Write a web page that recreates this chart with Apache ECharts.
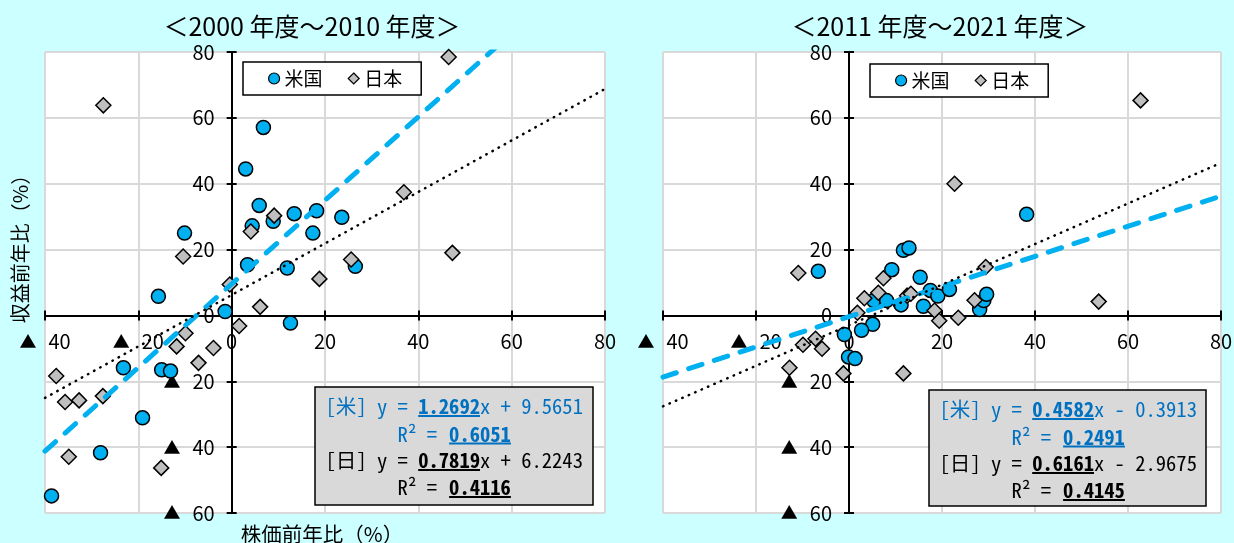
<!DOCTYPE html>
<html>
<head>
<meta charset="utf-8">
<script src="https://cdn.jsdelivr.net/npm/echarts@6/dist/echarts.min.js"></script>
<style>
html,body{margin:0;padding:0;background:#CCFFFF;}
#c{width:1234px;height:543px;}
</style>
</head>
<body>
<div id="c"></div>
<script>
// ---- data ----
const titles = ['＜2000 年度～2010 年度＞', '＜2011 年度～2021 年度＞'];
const seriesNames = ['米国', '日本'];
const eqLabels = ['[米]', '[日]'];
const xTickRange = [-40, 80, 20];
const yTickRange = [-60, 80, 20];

const usPoints1 = [[-1.4,1.2],[3.0,44.5],[6.8,57.1],[5.9,33.4],[4.4,27.2],[8.9,28.6],[13.4,30.9],[18.2,31.8],[23.6,29.8],[17.4,25.0],[3.4,15.4],[11.9,14.4],[26.5,14.9],[12.6,-2.3],[-10.1,25.0],[-15.7,5.8],[-23.2,-15.9],[-15.0,-16.5],[-13.1,-16.9],[-19.1,-31.1],[-28.1,-41.7],[-38.6,-54.8]];
const jpPoints1 = [[46.5,78.5],[36.9,37.4],[47.3,19.0],[25.6,17.0],[9.1,30.3],[4.1,25.5],[18.8,11.1],[6.1,2.6],[-0.4,9.4],[1.6,-3.2],[-27.5,63.8],[-10.4,17.9],[-9.9,-5.4],[-11.8,-9.4],[-3.9,-9.9],[-7.1,-14.4],[-37.6,-18.4],[-35.7,-26.3],[-32.7,-25.8],[-27.6,-24.5],[-34.9,-42.9],[-15.1,-46.3]];
const usPoints2 = [[-6.6,13.4],[11.7,19.8],[12.9,20.5],[9.2,13.9],[15.3,11.6],[5.3,4.5],[8.1,4.5],[11.2,3.2],[16.0,2.8],[17.5,7.6],[19.1,5.9],[21.6,7.9],[28.1,1.8],[29.0,4.5],[29.6,6.4],[-1.0,-5.8],[5.1,-2.7],[2.7,-4.5],[-0.1,-12.6],[1.3,-13.1],[38.2,30.7]];
const jpPoints2 = [[-10.9,12.9],[7.4,11.3],[6.3,6.9],[3.3,5.2],[1.8,0.8],[12.5,6.0],[13.3,6.6],[18.4,1.5],[19.4,-1.6],[23.5,-0.7],[27.0,4.6],[29.4,14.7],[-9.9,-8.9],[-7.2,-7.1],[-5.8,-10.1],[-12.8,-15.9],[-1.2,-17.6],[11.7,-17.6],[22.7,40.0],[62.7,65.3],[53.7,4.2]];

const slopes1 = [1.2692, 0.7819];
const intercepts1 = [9.5651, 6.2243];
const r2s1 = [0.6051, 0.4116];
const slopes2 = [0.4582, 0.6161];
const intercepts2 = [-0.3913, -2.9675];
const r2s2 = [0.2491, 0.4145];

const yAxisName = '収益前年比（%）';
const xAxisName = '株価前年比（%）';

// ---- styles / layout ----
const BLUE = '#00B0F0', GRAY = '#BFBFBF', EQBLUE = '#0070C0';
const NUMFONT = "'Liberation Sans Narrow', 'Noto Sans CJK JP', sans-serif";
const CJK = "'Noto Sans CJK JP', sans-serif";
const MONO = "'Noto Sans Mono CJK JP', 'DejaVu Sans Mono', monospace";

const grids = [
  {left: 45, top: 52, width: 560, height: 461},
  {left: 663, top: 52, width: 558, height: 461}
];

function tickFmt(v) { return v < 0 ? '{t|▲}{n|' + (-v) + '}' : '{n|' + v + '}'; }
const labelRich = {
  t: {fontFamily: CJK, fontSize: 17, color: '#000', padding: [0, 12, 0, 0]},
  n: {fontFamily: NUMFONT, fontSize: 20, color: '#000'}
};
const axisLineStyle = {color: '#000', width: 2};

// axes cross at zero: shift each axis inward by the distance of the zero value from the grid edge
function yAxisShift(g) { return -(0 - xTickRange[0]) / (xTickRange[1] - xTickRange[0]) * g.width; }
function xAxisShift(g) { return -(0 - yTickRange[0]) / (yTickRange[1] - yTickRange[0]) * g.height; }

const xAxes = [], yAxes = [];
grids.forEach((g, gi) => {
  const xo = xAxisShift(g), yo = yAxisShift(g);
  xAxes.push({
    gridIndex: gi, type: 'value', min: xTickRange[0], max: xTickRange[1], interval: xTickRange[2], position: 'bottom', offset: xo,
    axisLine: {onZero: false, lineStyle: axisLineStyle},
    axisTick: {length: 5, lineStyle: axisLineStyle},
    axisLabel: {formatter: tickFmt, rich: labelRich, margin: 16},
    splitLine: {lineStyle: {color: '#D9D9D9', width: 2}}
  });
  xAxes.push({
    gridIndex: gi, type: 'value', min: xTickRange[0], max: xTickRange[1], interval: xTickRange[2], position: 'bottom', offset: xo,
    axisLine: {show: false, onZero: false},
    axisTick: {inside: true, length: 5, lineStyle: axisLineStyle},
    axisLabel: {show: false}, splitLine: {show: false}
  });
  yAxes.push({
    gridIndex: gi, type: 'value', min: yTickRange[0], max: yTickRange[1], interval: yTickRange[2], position: 'left', offset: yo,
    axisLine: {onZero: false, lineStyle: axisLineStyle},
    axisTick: {length: 5, lineStyle: axisLineStyle},
    axisLabel: {formatter: tickFmt, rich: labelRich, margin: 17},
    splitLine: {lineStyle: {color: '#D9D9D9', width: 2}}
  });
  yAxes.push({
    gridIndex: gi, type: 'value', min: yTickRange[0], max: yTickRange[1], interval: yTickRange[2], position: 'left', offset: yo,
    axisLine: {show: false, onZero: false},
    axisTick: {inside: true, length: 5, lineStyle: axisLineStyle},
    axisLabel: {show: false}, splitLine: {show: false}
  });
});

function trend(a, b) {
  return [[xTickRange[0], a * xTickRange[0] + b], [xTickRange[1], a * xTickRange[1] + b]];
}

const panels = [
  {us: usPoints1, jp: jpPoints1, slopes: slopes1, intercepts: intercepts1, r2s: r2s1},
  {us: usPoints2, jp: jpPoints2, slopes: slopes2, intercepts: intercepts2, r2s: r2s2}
];

const series = [];
panels.forEach((p, gi) => {
  const xi = gi * 2, yi = gi * 2;
  series.push({
    name: seriesNames[0], type: 'scatter', xAxisIndex: xi, yAxisIndex: yi, data: p.us,
    symbol: 'circle', symbolSize: 14, z: 3,
    itemStyle: {color: BLUE, borderColor: '#000', borderWidth: 1.5, opacity: 1}
  });
  series.push({
    name: seriesNames[1], type: 'scatter', xAxisIndex: xi, yAxisIndex: yi, data: p.jp,
    symbol: 'diamond', symbolSize: 15, z: 4,
    itemStyle: {color: GRAY, borderColor: '#000', borderWidth: 1.5, opacity: 1}
  });
  series.push({
    name: seriesNames[0] + '近似', type: 'line', xAxisIndex: xi, yAxisIndex: yi,
    data: trend(p.slopes[0], p.intercepts[0]), showSymbol: false, symbol: 'none', silent: true, z: 5, clip: true,
    lineStyle: {color: BLUE, width: 5, type: [14, 13], cap: 'round'}
  });
  series.push({
    name: seriesNames[1] + '近似', type: 'line', xAxisIndex: xi, yAxisIndex: yi,
    data: trend(p.slopes[1], p.intercepts[1]), showSymbol: false, symbol: 'none', silent: true, z: 6, clip: true,
    lineStyle: {color: '#000', width: 2.5, type: [0.5, 6.5], cap: 'round'}
  });
});

const legendPos = [{left: 243, top: 62}, {left: 870, top: 64}];
const legends = legendPos.map(lp => ({
  left: lp.left, top: lp.top, orient: 'horizontal',
  data: [{name: seriesNames[0], icon: 'circle'}, {name: seriesNames[1], icon: 'diamond'}],
  itemWidth: 11, itemHeight: 11, itemGap: 25,
  padding: [7, 19, 7, 25],
  backgroundColor: '#fff', borderColor: '#000', borderWidth: 1.5, borderRadius: 0,
  selectedMode: false,
  itemStyle: {borderColor: '#000', borderWidth: 1.2},
  textStyle: {fontFamily: CJK, fontSize: 19, color: '#000'}
}));

const titleCenters = [312, 940];
const titleOpts = titles.map((t, i) => ({
  text: t, left: titleCenters[i], top: 14, textAlign: 'center', padding: 0,
  textStyle: {fontFamily: NUMFONT, fontSize: 25, fontWeight: 'normal', color: '#000'}
}));

function fmtIntercept(b) { return 'x ' + (b < 0 ? '- ' : '+ ') + Math.abs(b).toFixed(4); }

const boxes = [{x: 315, y: 387, w: 278, h: 118}, {x: 929, y: 390, w: 277, h: 116}];
function eqGraphic(box, p) {
  const cw = 10.3, fs = 20.6, x0 = box.x + 10.5, Z = 100;
  const rows = [19.5, 47, 73.5, 100.5].map(d => box.y + d);
  const colors = [EQBLUE, '#000'];
  const els = [{
    type: 'rect', z: Z, shape: {x: box.x, y: box.y, width: box.w, height: box.h},
    style: {fill: '#D9D9D9', stroke: '#000', lineWidth: 1.5}
  }];
  for (let i = 0; i < 2; i++) {
    const yA = rows[2 * i], yB = rows[2 * i + 1], c = colors[i];
    const t = (str, col, y, bold) => ({
      type: 'text', z: Z + 1, x: x0 + col * cw, y: y,
      style: {text: str, fill: c, fontFamily: MONO, fontSize: fs, fontWeight: bold ? 'bold' : 'normal', verticalAlign: 'middle', align: 'left'}
    });
    const u = (c1, c2, y) => ({
      type: 'line', z: Z + 1, shape: {x1: x0 + c1 * cw, y1: y + 9.5, x2: x0 + c2 * cw, y2: y + 9.5},
      style: {stroke: c, lineWidth: 2}
    });
    els.push(t(eqLabels[i], 0, yA), t('y =', 5, yA), t(p.slopes[i].toFixed(4), 9, yA, true),
      t(fmtIntercept(p.intercepts[i]), 15, yA), u(9, 15, yA),
      t('R² =', 7, yB), t(p.r2s[i].toFixed(4), 12, yB, true), u(12, 18, yB));
  }
  return els;
}

const graphics = [].concat(
  eqGraphic(boxes[0], panels[0]),
  eqGraphic(boxes[1], panels[1]),
  [{type: 'text', x: 20, y: 244, rotation: Math.PI / 2, z: 100,
    style: {text: yAxisName, fill: '#000', fontFamily: CJK, fontSize: 20, align: 'center', verticalAlign: 'middle'}},
   {type: 'text', x: 322, y: 534, z: 100,
    style: {text: xAxisName, fill: '#000', fontFamily: CJK, fontSize: 20.5, align: 'center', verticalAlign: 'middle'}}]
);

const chart = echarts.init(document.getElementById('c'), null, {renderer: 'canvas'});
chart.setOption({
  backgroundColor: '#CCFFFF',
  animation: false,
  title: titleOpts,
  legend: legends,
  grid: grids.map(g => Object.assign({show: true, backgroundColor: '#fff', borderWidth: 0, containLabel: false, outerBoundsMode: 'none'}, g)),
  xAxis: xAxes,
  yAxis: yAxes,
  series: series,
  graphic: {elements: graphics}
});
</script>
</body>
</html>
